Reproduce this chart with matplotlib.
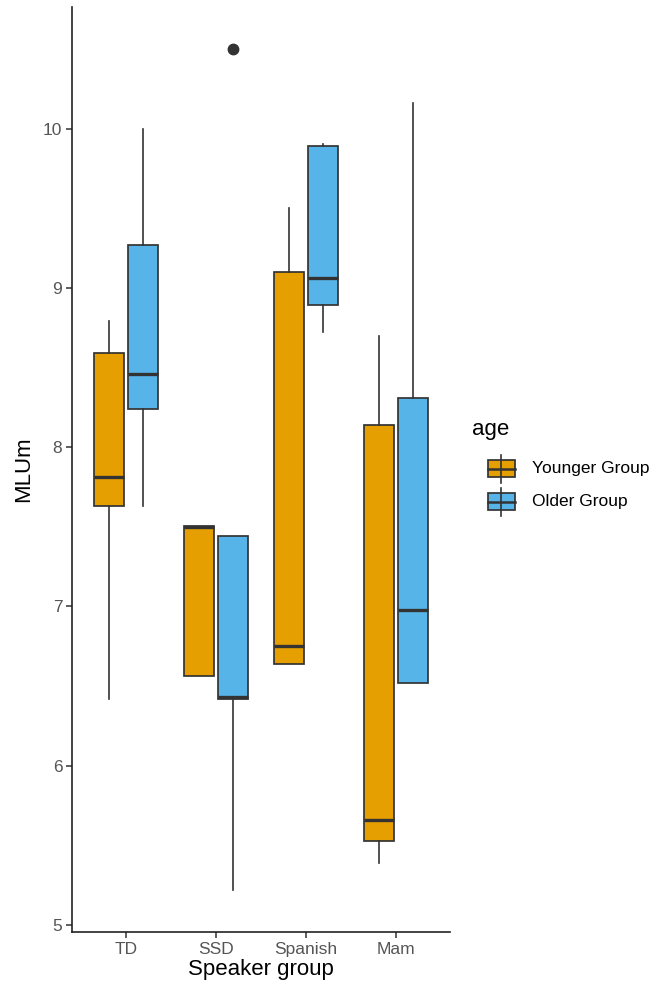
import matplotlib
matplotlib.use("Agg")
import matplotlib.pyplot as plt
from matplotlib.patches import Rectangle

plt.rcParams['font.family'] = ['Liberation Sans', 'DejaVu Sans']

groups = ["TD", "SSD", "Spanish", "Mam"]
ages = ["Younger Group", "Older Group"]
colors = ["#E69F00", "#56B4E9"]

# per age: lists over groups
younger_whislo = [6.42, 6.56, 6.64, 5.39]
younger_q1     = [7.63, 6.56, 6.64, 5.525]
younger_med    = [7.81, 7.50, 6.75, 5.66]
younger_q3     = [8.59, 7.505, 9.10, 8.14]
younger_whishi = [8.79, 7.505, 9.50, 8.70]
younger_fliers = [[], [], [], []]

older_whislo = [7.63, 5.22, 8.72, 6.52]
older_q1     = [8.24, 6.42, 8.89, 6.52]
older_med    = [8.46, 6.43, 9.06, 6.98]
older_q3     = [9.27, 7.44, 9.89, 8.31]
older_whishi = [10.0, 7.44, 9.90, 10.16]
older_fliers = [[], [10.5], [], []]

yticks = [5, 6, 7, 8, 9, 10]

W, H = 657, 989
fig = plt.figure(figsize=(W / 100, H / 100), dpi=100)
ax = fig.add_axes([72 / W, 1 - 932 / H, (450 - 72) / W, (932 - 7) / H])

series = [
    (younger_whislo, younger_q1, younger_med, younger_q3, younger_whishi, younger_fliers),
    (older_whislo, older_q1, older_med, older_q3, older_whishi, older_fliers),
]
offsets = [-0.1875, 0.1875]
edge = "#333333"
for k, (wl, q1, md, q3, wh, fl) in enumerate(series):
    stats = []
    for i in range(len(groups)):
        stats.append(dict(whislo=wl[i], q1=q1[i], med=md[i], q3=q3[i], whishi=wh[i], fliers=fl[i]))
    pos = [i + 1 + offsets[k] for i in range(len(groups))]
    ax.bxp(stats, positions=pos, widths=0.3375, patch_artist=True, showcaps=False,
           boxprops=dict(facecolor=colors[k], edgecolor=edge, linewidth=1.25),
           medianprops=dict(color=edge, linewidth=2.4, solid_capstyle='butt'),
           whiskerprops=dict(color=edge, linewidth=1.2),
           flierprops=dict(marker='o', markerfacecolor=edge, markeredgecolor=edge, markersize=7.5),
           manage_ticks=False, zorder=2)

ax.set_xlim(0.4, 4.6)
ax.set_ylim(4.956, 10.763)
ax.set_xticks(range(1, len(groups) + 1))
ax.set_xticklabels(groups)
ax.set_yticks(yticks)
ax.set_yticklabels([str(t) for t in yticks])
for s in ["top", "right"]:
    ax.spines[s].set_visible(False)
for s in ["left", "bottom"]:
    ax.spines[s].set_linewidth(1.2)
    ax.spines[s].set_color("#222222")
ax.tick_params(axis="both", length=4, width=1.1, color="#333333", labelcolor="#555555",
               labelsize=12.5, pad=3)
ax.set_xlabel("Speaker group", fontsize=16, color="black", labelpad=2)
ax.set_ylabel("MLUm", fontsize=16, color="black", labelpad=6)

# legend drawn in pixel coordinates
lg = fig.add_axes([0, 0, 1, 1], facecolor="none")
lg.set_xlim(0, W)
lg.set_ylim(H, 0)
lg.axis("off")
lg.text(472, 430, "age", fontsize=16, va="center", ha="left")
key_y = [468.5, 501.5]
for k, name in enumerate(ages):
    cy = key_y[k]
    lg.plot([501, 501], [cy - 14, cy + 14], color=edge, lw=1.2)
    lg.add_patch(Rectangle((487.5, cy - 8.5), 27, 17, facecolor=colors[k], edgecolor=edge, lw=1.25))
    lg.plot([487.5, 514.5], [cy, cy], color=edge, lw=1.8)
    lg.text(532, cy, name, fontsize=12.5, va="center", ha="left")

fig.savefig("out.png", dpi=100)
